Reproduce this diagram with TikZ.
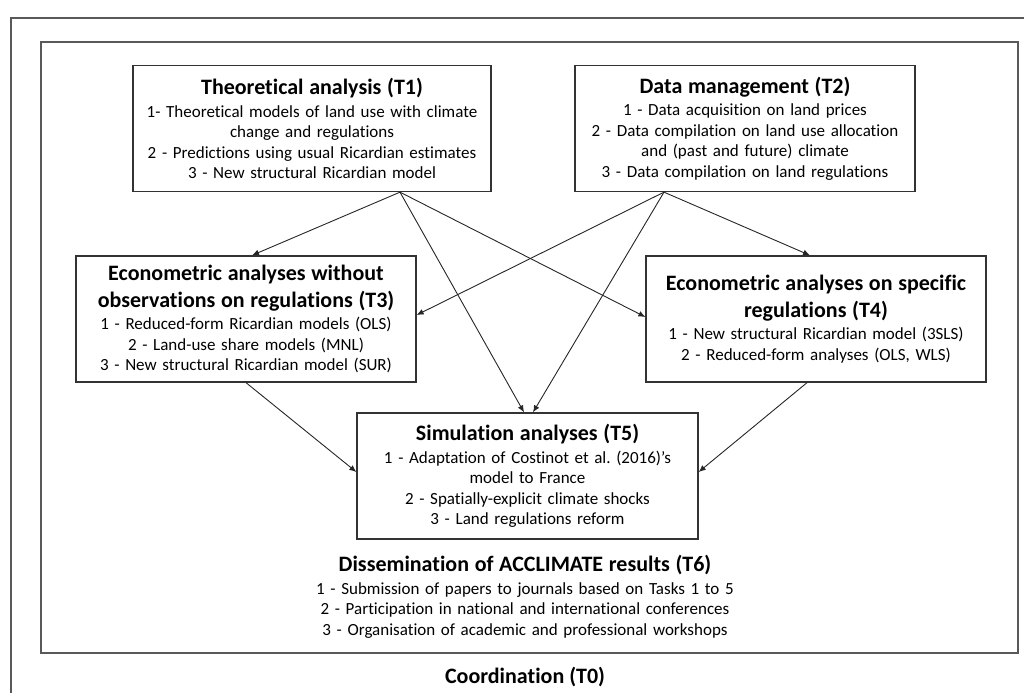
\documentclass[tikz,border=0pt]{standalone}
\usepackage{fontspec}
\setmainfont{Carlito}[Ligatures=NoCommon]
\frenchspacing
\usetikzlibrary{arrows.meta}

\tikzset{
  frame/.style={draw=black!65, line width=1.6pt},
  task/.style={draw=black!80, line width=1.3pt, align=center, inner sep=0pt,
    minimum height=126pt, font=\fontsize{17}{20.5}\selectfont},
  plain/.style={align=center, inner sep=0pt, font=\fontsize{17}{20.5}\selectfont},
  link/.style={draw=black!85, line width=0.9pt, -{Latex[length=7pt,width=6pt]}},
}
\newcommand{\tasktitle}[1]{{\fontsize{22}{27}\selectfont\bfseries #1\par}\vspace{2pt}}

\begin{document}
\begin{tikzpicture}[x=1pt,y=-1pt]
\useasboundingbox (0,0) rectangle (1024,693);

% outer and inner frame
\draw[frame] (11,693) -- (11,18) -- (1024,18);
\draw[frame] (41,42) rectangle (1018,653);

% top row
\node[task, minimum width=358pt, text width=354pt] (t1) at (312,128.5) {%
\tasktitle{Theoretical analysis (T1)}
1- Theoretical models of land use with climate\\
change and regulations\\
2 - Predictions using usual Ricardian estimates\\
3 - New structural Ricardian model};

\node[task, minimum width=340pt, text width=336pt] (t2) at (745,128.5) {%
\tasktitle{Data management (T2)}
1 - Data acquisition on land prices\\
2 - Data compilation on land use allocation\\
and (past and future) climate\\
3 - Data compilation on land regulations};

% middle row
\node[task, minimum width=340pt, text width=336pt] (t3) at (246,319) {%
\tasktitle{Econometric analyses without\\ observations on regulations (T3)}
1 - Reduced-form Ricardian models (OLS)\\
2 - Land-use share models (MNL)\\
3 - New structural Ricardian model (SUR)};

\node[task, minimum width=340pt, text width=336pt] (t4) at (816,319) {%
\tasktitle{Econometric analyses on specific\\ regulations (T4)}
1 - New structural Ricardian model (3SLS)\\
2 - Reduced-form analyses (OLS, WLS)};

% bottom
\node[task, minimum width=341pt, text width=337pt] (t5) at (527.5,476) {%
\tasktitle{Simulation analyses (T5)}
1 - Adaptation of Costinot et al. (2016)'s\\
model to France\\
2 - Spatially-explicit climate shocks\\
3 - Land regulations reform};

\node[plain, text width=470pt] (t6) at (525,597) {%
\tasktitle{Dissemination of ACCLIMATE results (T6)}
1 - Submission of papers to journals based on Tasks 1 to 5\\
2 - Participation in national and international conferences\\
3 - Organisation of academic and professional workshops};

\node[plain] (t0) at (525,677) {{\fontsize{22}{27}\selectfont\bfseries Coordination (T0)}};

% links
\coordinate (t1out) at ([xshift=88pt]t1.south);
\coordinate (t2out) at ([xshift=-81pt]t2.south);
\draw[link] (t1out) -- ([xshift=6pt]t3.north);
\draw[link] (t1out) -- ([xshift=-3.5pt]t5.north);
\draw[link] (t1out) -- ([yshift=2pt]t4.west);
\draw[link] (t2out) -- ([yshift=4pt]t3.east);
\draw[link] (t2out) -- ([xshift=5.5pt]t5.north);
\draw[link] (t2out) -- ([xshift=-6pt]t4.north);
\draw[link] (t3.south) -- ([yshift=4pt]t5.west);
\draw[link] ([xshift=-9pt]t4.south) -- ([yshift=4pt]t5.east);

\end{tikzpicture}
\end{document}
